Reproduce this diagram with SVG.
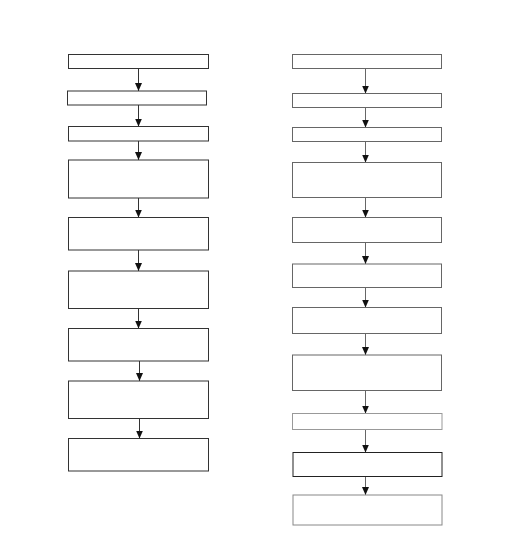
<svg xmlns="http://www.w3.org/2000/svg" width="525" height="536" viewBox="0 0 525 536">
<style>
.bl{fill:#fff;stroke:#333;stroke-width:1}
.br{fill:#fff;stroke:#666;stroke-width:1}
.c{stroke:#333;stroke-width:1;fill:none;marker-end:url(#ah)}
.cr{stroke:#666;stroke-width:1;fill:none;marker-end:url(#ah)}
</style>
<defs>
<marker id="ah" viewBox="0 0 8 10" refX="8" refY="5" markerWidth="8" markerHeight="10" markerUnits="userSpaceOnUse" orient="auto">
<path d="M0,1.5 L8,5 L0,8.5 Z" fill="#111"/>
</marker>
</defs>
<rect width="525" height="536" fill="#fff"/>
<g id="connectors">
<line class="c" x1="138.5" y1="68.5" x2="138.5" y2="91"/>
<line class="c" x1="138.5" y1="105" x2="138.5" y2="126.5"/>
<line class="c" x1="138.5" y1="141" x2="138.5" y2="160"/>
<line class="c" x1="138.5" y1="198" x2="138.5" y2="217.5"/>
<line class="c" x1="138.5" y1="250" x2="138.5" y2="271"/>
<line class="c" x1="138.5" y1="308.5" x2="138.5" y2="328.5"/>
<line class="c" x1="139.5" y1="361" x2="139.5" y2="381"/>
<line class="c" x1="139.5" y1="418.5" x2="139.5" y2="438.5"/>
<line class="cr" x1="365.5" y1="68.5" x2="365.5" y2="93.5"/>
<line class="cr" x1="365.5" y1="107.5" x2="365.5" y2="127.5"/>
<line class="cr" x1="365.5" y1="141.5" x2="365.5" y2="162.5"/>
<line class="cr" x1="365.5" y1="197.5" x2="365.5" y2="217.5"/>
<line class="cr" x1="365.5" y1="242.5" x2="365.5" y2="264"/>
<line class="cr" x1="365.5" y1="287.5" x2="365.5" y2="307.5"/>
<line class="cr" x1="365.5" y1="333.5" x2="365.5" y2="355"/>
<line class="cr" x1="365.5" y1="390.5" x2="365.5" y2="413.5"/>
<line class="cr" x1="365.5" y1="429.5" x2="365.5" y2="452.5"/>
<line class="cr" x1="365.5" y1="476.5" x2="365.5" y2="495"/>
</g>
<g id="L1"><rect class="bl" x="68.5" y="54.5" width="140" height="14"/></g>
<g id="L2"><rect class="bl" x="67.5" y="91" width="139" height="14"/></g>
<g id="L3"><rect class="bl" x="68.5" y="126.5" width="140" height="14.5"/></g>
<g id="L4"><rect class="bl" x="68.5" y="160" width="140" height="38"/></g>
<g id="L5"><rect class="bl" x="68.5" y="217.5" width="140" height="32.5"/></g>
<g id="L6"><rect class="bl" x="68.5" y="271" width="140" height="37.5"/></g>
<g id="L7"><rect class="bl" x="68.5" y="328.5" width="140" height="32.5"/></g>
<g id="L8"><rect class="bl" x="68.5" y="381" width="140" height="37.5"/></g>
<g id="L9"><rect class="bl" x="68.5" y="438.5" width="140" height="32.5"/></g>
<g id="R1"><rect class="br" x="292.5" y="54.5" width="149" height="14"/></g>
<g id="R2"><rect class="br" x="292.5" y="93.5" width="149" height="14"/></g>
<g id="R3"><rect class="br" x="292.5" y="127.5" width="149" height="14"/></g>
<g id="R4"><rect class="br" x="292.5" y="162.5" width="149" height="35"/></g>
<g id="R5"><rect class="br" x="292.5" y="217.5" width="149" height="25"/></g>
<g id="R6"><rect class="br" x="292.5" y="264" width="149" height="23.5"/></g>
<g id="R7"><rect class="br" x="292.5" y="307.5" width="149" height="26"/></g>
<g id="R8"><rect class="br" x="292.5" y="355" width="149" height="35.5"/></g>
<g id="R9"><rect class="br" x="292.5" y="413.5" width="149.5" height="16" style="stroke:#999"/></g>
<g id="R10"><rect class="br" x="293" y="452.5" width="149" height="24" style="stroke:#222"/></g>
<g id="R11"><rect class="br" x="293" y="495" width="149" height="30" style="stroke:#888"/></g>
</svg>
